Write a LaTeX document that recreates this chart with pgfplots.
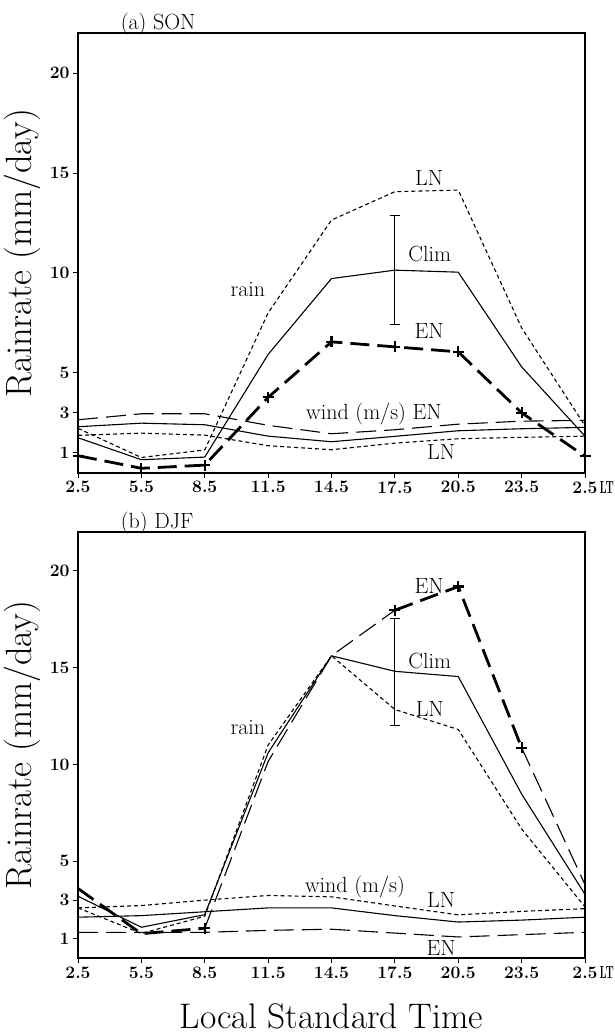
\documentclass[border=0pt]{standalone}
\usepackage{fontspec}
\usepackage{graphicx}
\usepackage{pgfplots}
\pgfplotsset{compat=1.18}
\newcommand\lab{\fontsize{22}{24}\selectfont\addfontfeature{LetterSpace=6}}
\newcommand\tickf{\fontsize{17.5}{18}\selectfont\bfseries}
\pgfplotsset{
  panel/.style={
    scale only axis, width=507pt,
    xmin=0, xmax=8, ymin=0, ymax=22,
    xtick={0,...,8},
    xticklabels={2.5,5.5,8.5,11.5,14.5,17.5,20.5,23.5,{2.5\rlap{\hspace{2pt}\scalebox{0.6}[1]{LT}}}},
    ytick={1,3,5,10,15,20}, yticklabels={1,3,5,10,15,20},
    tick align=outside, xtick pos=bottom, ytick pos=left,
    major tick length=5pt,
    tick style={line width=1pt, black},
    axis line style={line width=1.7pt},
    tick label style={font=\tickf},
    clip=false,
    ylabel={Rainrate (mm/day)},
    ylabel style={font=\fontsize{36.5}{38}\selectfont, at={(axis description cs:-0.1103,0.5)}, anchor=center},
  },
  clim/.style={black, line width=1.1pt, solid},
  ln/.style={black, line width=1.1pt, dash pattern=on 4pt off 3pt},
  en/.style={black, line width=1.1pt, dash pattern=on 20pt off 8pt},
  enthick/.style={black, line width=2.8pt, dash pattern=on 19pt off 8pt},
  plus/.style={only marks, mark=+, mark size=5.5pt, mark options={solid, line width=2.2pt, black}},
  ebar/.style={black, line width=0.9pt, mark=-, mark size=5pt, mark options={solid, line width=0.9pt}},
}
\begin{document}
\begin{tikzpicture}
\path[use as bounding box] (0,0) rectangle (615pt,1036pt);
% ---------------- (a) SON
\begin{axis}[panel, height=439.4pt, at={(78pt,563.3pt)}, anchor=south west]
% wind
\addplot[en] coordinates {(0,2.65)(1,2.95)(2,2.95)(3,2.37)(4,1.95)(5,2.15)(6,2.43)(7,2.58)(8,2.62)};
\addplot[clim] coordinates {(0,2.30)(1,2.48)(2,2.40)(3,1.83)(4,1.55)(5,1.82)(6,2.10)(7,2.20)(8,2.27)};
\addplot[ln] coordinates {(0,1.87)(1,1.98)(2,1.88)(3,1.35)(4,1.15)(5,1.48)(6,1.70)(7,1.77)(8,1.83)};
% rain
\addplot[clim] coordinates {(0,1.75)(1,0.65)(2,0.78)(3,5.92)(4,9.72)(5,10.14)(6,10.04)(7,5.30)(8,1.83)};
\addplot[ln] coordinates {(0,2.22)(1,0.76)(2,1.14)(3,8.00)(4,12.65)(5,14.07)(6,14.15)(7,7.25)(8,2.35)};
\addplot[enthick] coordinates {(0,0.85)(1,0.22)(2,0.38)(3,3.77)(4,6.55)(5,6.30)(6,6.05)(7,3.00)(8,0.82)};
\addplot[plus] coordinates {(0,0.85)(1,0.22)(2,0.38)(3,3.77)(4,6.55)(5,6.30)(6,6.05)(7,3.00)(8,0.82)};
\addplot[ebar] coordinates {(5,7.4)(5,12.9)};
\node[font=\lab, anchor=base west] at (axis cs:0.62,22.17) {(a) SON};
\node[font=\lab] at (axis cs:5.54,14.76) {LN};
\node[font=\lab] at (axis cs:5.55,10.93) {Clim};
\node[font=\lab] at (axis cs:2.68,9.17) {rain};
\node[font=\lab] at (axis cs:5.54,7.09) {EN};
\node[font=\lab] at (axis cs:4.67,2.95) {wind (m/s) EN};
\node[font=\lab] at (axis cs:5.73,1.04) {LN};
\end{axis}
% ---------------- (b) DJF
\begin{axis}[panel, height=426.6pt, at={(78pt,77.7pt)}, anchor=south west,
  xlabel={Local Standard Time},
  xlabel style={font=\fontsize{35.5}{37}\selectfont, at={(axis description cs:0.5,-0.136)}, anchor=center}]
% wind
\addplot[ln] coordinates {(0,2.60)(1,2.72)(2,3.00)(3,3.24)(4,3.17)(5,2.70)(6,2.24)(7,2.42)(8,2.56)};
\addplot[clim] coordinates {(0,2.12)(1,2.20)(2,2.40)(3,2.60)(4,2.60)(5,2.20)(6,1.87)(7,1.97)(8,2.12)};
\addplot[en] coordinates {(0,1.34)(1,1.34)(2,1.34)(3,1.44)(4,1.50)(5,1.30)(6,1.10)(7,1.22)(8,1.34)};
% rain
\addplot[clim] coordinates {(0,3.20)(1,1.60)(2,2.25)(3,10.60)(4,15.60)(5,14.80)(6,14.53)(7,8.47)(8,3.30)};
\addplot[ln] coordinates {(0,2.60)(1,1.28)(2,2.17)(3,11.00)(4,15.60)(5,12.83)(6,11.80)(7,6.67)(8,2.65)};
\addplot[en] coordinates {(2,1.55)(3,10.15)(4,15.60)(5,17.95)};
\addplot[en] coordinates {(7,10.86)(8,3.80)};
\addplot[enthick] coordinates {(0,3.60)(1,1.27)(2,1.55)};
\addplot[enthick] coordinates {(5,17.95)(6,19.17)(7,10.86)};
\addplot[plus] coordinates {(2,1.55)(5,17.95)(6,19.17)(7,10.86)};
\addplot[ebar] coordinates {(5,12.0)(5,17.52)};
\node[font=\lab, anchor=base west] at (axis cs:0.62,22.17) {(b) DJF};
\node[font=\lab] at (axis cs:5.54,19.18) {EN};
\node[font=\lab] at (axis cs:5.55,15.35) {Clim};
\node[font=\lab] at (axis cs:5.55,12.86) {LN};
\node[font=\lab] at (axis cs:2.68,11.92) {rain};
\node[font=\lab] at (axis cs:4.37,3.68) {wind (m/s)};
\node[font=\lab] at (axis cs:5.73,3.00) {LN};
\node[font=\lab] at (axis cs:5.73,0.52) {EN};
\end{axis}
\end{tikzpicture}
\end{document}
